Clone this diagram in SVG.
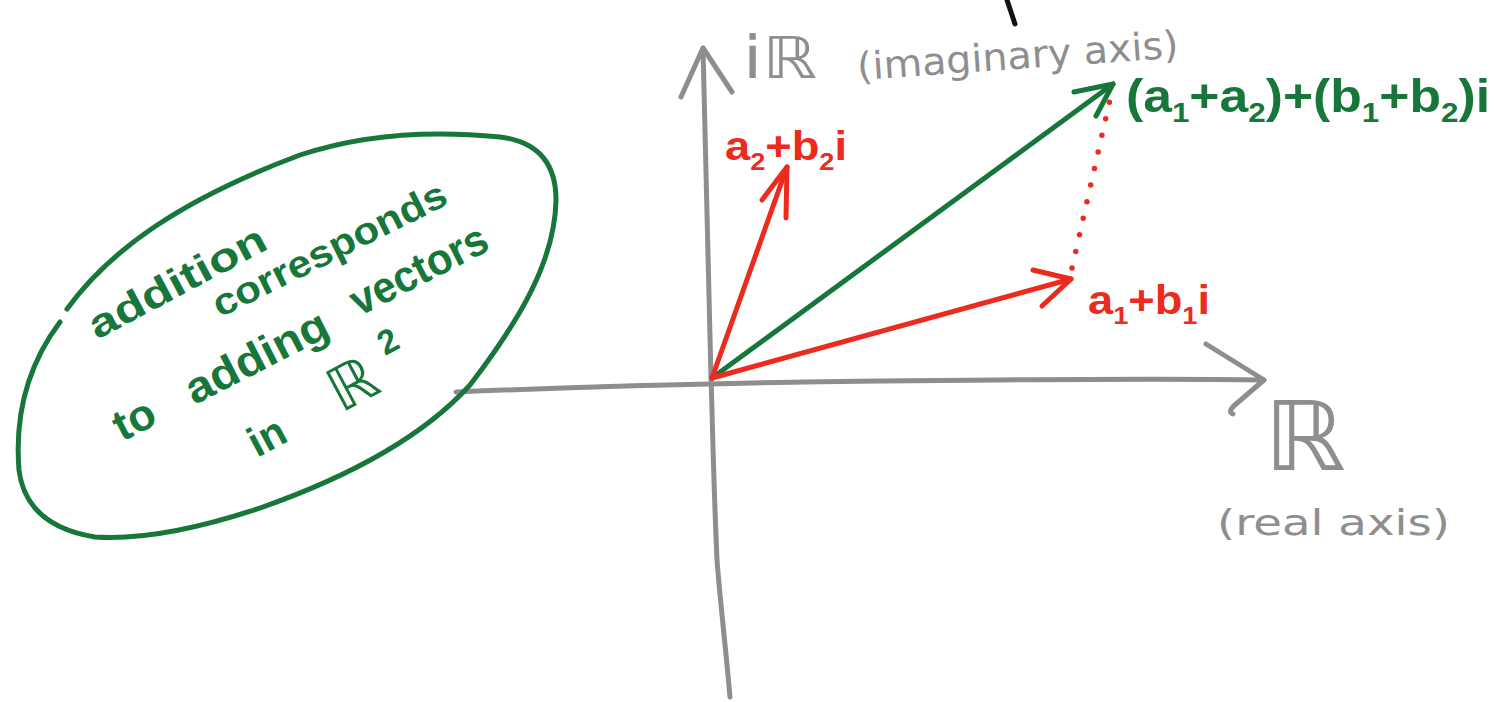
<svg xmlns="http://www.w3.org/2000/svg" width="1496" height="702" viewBox="0 0 1496 702">
<style>
.grey{fill:none;stroke:#8e8e8e;stroke-width:5;stroke-linecap:round;stroke-linejoin:round}
.green{fill:none;stroke:#17773a;stroke-width:5;stroke-linecap:round;stroke-linejoin:round}
.red{fill:none;stroke:#ec2a1e;stroke-width:5;stroke-linecap:round;stroke-linejoin:round}
.dots{fill:none;stroke:#ec2a1e;stroke-width:5.5;stroke-linecap:round;stroke-dasharray:0 17}
.tg{fill:#8e8e8e;font-family:"DejaVu Sans","Liberation Sans",sans-serif}
.tgreen{fill:#17773a;font-family:"Liberation Sans","DejaVu Sans",sans-serif;font-weight:bold}
.tred{fill:#ec2a1e;font-family:"Liberation Sans","DejaVu Sans",sans-serif;font-weight:bold}
.tnote{fill:#17773a;font-family:"Liberation Sans","DejaVu Sans",sans-serif;font-weight:bold}
</style>
<rect width="1496" height="702" fill="#ffffff"/>

<!-- stray black stroke at top edge -->
<line x1="1007" y1="0" x2="1015" y2="24" stroke="#111" stroke-width="5" stroke-linecap="round"/>

<g id="connectors">
  <!-- real axis -->
  <path id="real-axis" class="grey" d="M456,392 C600,386 800,381 1000,380 C1120,379 1200,379 1264,380"/>
  <path class="grey" d="M1206,344 L1264,380 L1236,404 C1230,409 1229,412 1233,414"/>
  <!-- imaginary axis -->
  <path id="imag-axis" class="grey" d="M730,697 C726,650 720,600 717,560 C713,470 712,400 711,378 C709,260 706,150 703,48"/>
  <path class="grey" d="M681,97 L703,48 L732,92"/>
  <!-- sum vector -->
  <line class="green" x1="712" y1="378" x2="1113" y2="84"/>
  <path class="green" d="M1074,92 L1113,84 L1096,116"/>
  <!-- a1+b1 i -->
  <line class="red" x1="712" y1="378" x2="1071" y2="279"/>
  <path class="red" d="M1033,270 L1071,279 L1042,306"/>
  <!-- a2+b2 i -->
  <line class="red" x1="712" y1="378" x2="787" y2="167"/>
  <path class="red" d="M762,200 L787,167 L786,218"/>
  <!-- dotted parallelogram side -->
  <path class="dots" d="M1072,268 L1113,86"/>
</g>

<g id="note">
  <path class="green" d="M67,309 C110,250 180,200 300,155 C360,135 430,130 500,137 C540,142 556,165 556,200 C555,260 520,320 470,385 C420,440 340,480 260,508 C200,528 140,540 95,537 C52,530 24,510 19,470 C15,420 24,370 60,322"/>
  <text class="tnote" font-size="40" transform="translate(97,340) rotate(-28)" textLength="196" lengthAdjust="spacingAndGlyphs">addition</text>
  <text class="tnote" font-size="38" transform="translate(220,318) rotate(-26.5)" textLength="257" lengthAdjust="spacingAndGlyphs">corresponds</text>
  <text class="tnote" font-size="44" transform="translate(122,442) rotate(-27)"><tspan textLength="42" lengthAdjust="spacingAndGlyphs">to</tspan> <tspan x="0" dx="81" textLength="155" lengthAdjust="spacingAndGlyphs">adding</tspan> <tspan x="0" dx="268" dy="-4" textLength="149" lengthAdjust="spacingAndGlyphs">vectors</tspan></text>
  <text class="tnote" font-size="42" transform="translate(257,458) rotate(-28)">in<tspan dx="58" font-size="60" font-weight="normal" font-family="DejaVu Sans">ℝ</tspan><tspan font-size="34" dx="18" dy="-30">2</tspan></text>
</g>

<g id="label-imag">
  <text class="tg" font-size="58" x="743" y="78" textLength="74" lengthAdjust="spacingAndGlyphs">iℝ</text>
  <text class="tg" font-size="38" transform="translate(858,80) rotate(-4)" textLength="322" lengthAdjust="spacingAndGlyphs">(imaginary axis)</text>
</g>

<g id="label-real">
  <text class="tg" font-size="96" x="1264" y="470" textLength="82" lengthAdjust="spacingAndGlyphs">ℝ</text>
  <text class="tg" font-size="36" x="1217" y="535" textLength="233" lengthAdjust="spacingAndGlyphs">(real axis)</text>
</g>

<g id="label-sum">
  <text class="tgreen" font-size="46" x="1126" y="112" textLength="364" lengthAdjust="spacingAndGlyphs">(a<tspan font-size="28" dy="10">1</tspan><tspan dy="-10">+a</tspan><tspan font-size="28" dy="10">2</tspan><tspan dy="-10">)+(b</tspan><tspan font-size="28" dy="10">1</tspan><tspan dy="-10">+b</tspan><tspan font-size="28" dy="10">2</tspan><tspan dy="-10">)i</tspan></text>
</g>

<g id="label-v2">
  <text class="tred" font-size="40" x="725" y="160" textLength="122" lengthAdjust="spacingAndGlyphs">a<tspan font-size="24" dy="10">2</tspan><tspan dy="-10">+b</tspan><tspan font-size="24" dy="10">2</tspan><tspan dy="-10">i</tspan></text>
</g>

<g id="label-v1">
  <text class="tred" font-size="40" x="1088" y="314" textLength="122" lengthAdjust="spacingAndGlyphs">a<tspan font-size="24" dy="10">1</tspan><tspan dy="-10">+b</tspan><tspan font-size="24" dy="10">1</tspan><tspan dy="-10">i</tspan></text>
</g>
</svg>
